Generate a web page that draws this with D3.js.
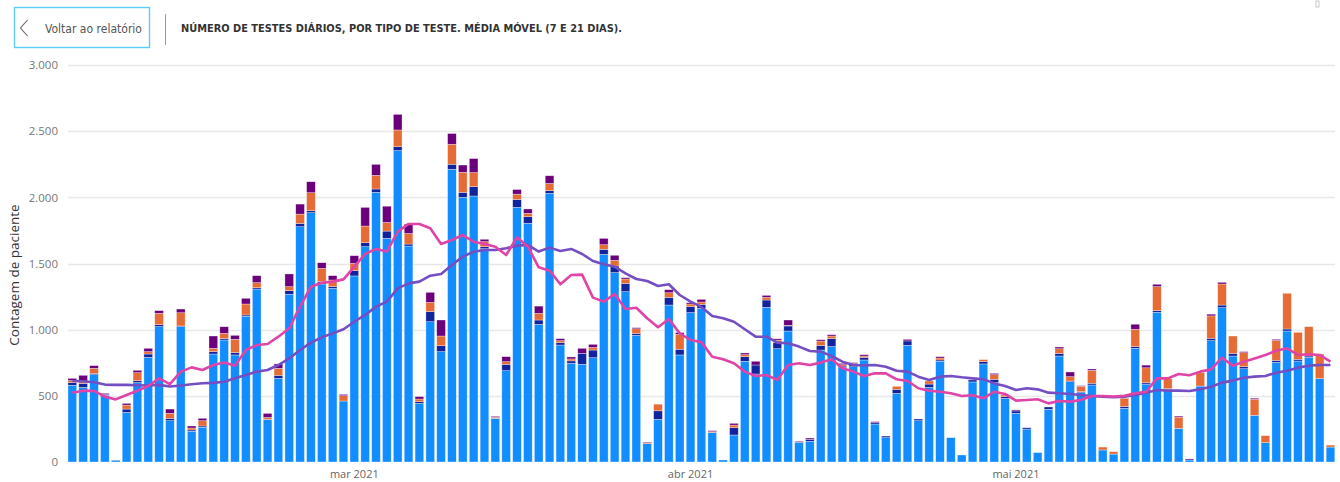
<!DOCTYPE html>
<html><head><meta charset="utf-8">
<script src="https://cdn.jsdelivr.net/npm/d3@7"></script>
<style>body{margin:0;background:#fff}svg{display:block}</style>
</head><body>
<svg id="c" width="1340" height="482"></svg>
<script>
// ---- DATA ----
const dates = d3.timeDay.range(new Date(2021, 1, 3), new Date(2021, 4, 31)); // 3 fev .. 30 mai
const blue = [580,564,660,504,12,375,600,791,1023,312,1023,232,262,816,922,809,1101,1307,322,632,
1267,1778,1884,1345,1312,461,1406,1627,2038,1690,2353,1632,443,1060,834,2212,2000,2010,1612,330,
690,1924,1804,1040,2030,884,746,738,788,1569,1431,1287,957,139,322,1186,809,1129,1161,224,
15,204,761,665,1169,856,990,149,156,846,872,713,720,771,287,184,519,882,312,564,
761,184,53,605,741,600,481,368,249,71,398,801,607,524,582,91,60,406,859,589,
1131,549,254,15,574,917,1166,801,705,353,146,753,990,763,791,630,113];
const navy = [20,30,10,8,3,25,15,25,15,18,5,10,10,18,10,18,10,10,0,23,
28,25,15,18,13,0,40,30,25,55,30,15,13,76,45,38,38,71,15,0,
48,60,50,33,20,18,18,83,58,38,50,63,15,0,65,58,43,45,30,0,
0,55,35,68,55,45,38,0,15,35,60,12,15,20,10,12,30,33,13,25,
10,0,0,15,18,25,13,18,10,0,18,20,5,8,13,0,0,13,13,10,
13,5,0,0,0,18,20,20,15,0,0,15,15,13,10,0,0];
const orange = [15,15,38,0,0,30,60,18,86,38,100,15,40,25,40,100,83,38,15,53,
30,70,136,100,50,40,55,126,103,65,126,80,20,70,73,151,151,106,38,8,
20,40,25,50,55,15,15,0,20,35,43,33,35,6,50,35,113,20,18,5,
0,20,15,0,20,20,5,0,0,33,20,10,8,10,0,0,23,0,0,23,
15,0,0,0,15,35,13,0,0,0,0,35,33,40,98,22,18,63,131,113,
181,76,85,0,100,169,159,131,106,121,53,151,270,204,222,186,15];
const purple = [17,46,20,7,0,13,18,25,20,32,28,15,18,93,50,30,43,53,30,33,
96,76,83,43,33,10,58,141,83,123,118,71,18,76,121,81,55,106,18,7,
38,35,33,55,58,15,15,38,23,48,38,10,8,6,0,23,13,10,20,8,
0,13,13,28,15,10,40,7,10,10,10,10,8,10,8,0,0,12,0,0,
10,0,0,0,0,10,0,8,0,0,0,13,35,5,10,0,0,0,38,20,
18,0,8,8,0,13,13,0,8,8,0,8,0,0,0,0,0];
const ma7 = [524,539,537,494,473,506,539,574,632,589,683,715,695,733,752,728,846,884,892,947,
1010,1174,1325,1355,1363,1380,1476,1572,1610,1590,1741,1799,1799,1766,1647,1678,1715,1665,1647,1627,
1564,1698,1627,1471,1446,1343,1413,1416,1242,1212,1270,1156,1166,1086,1018,1081,972,922,906,796,
776,746,683,650,657,620,733,746,733,751,776,708,683,650,670,670,625,612,557,539,
531,519,499,504,481,531,514,464,469,474,443,461,456,469,499,499,494,501,519,531,
632,632,665,655,683,700,788,728,758,783,809,841,859,809,814,809,758];
const ma21 = [612,610,603,585,583,583,580,578,583,570,578,588,595,598,607,632,657,683,695,733,
783,846,902,942,972,1003,1060,1111,1174,1212,1312,1350,1363,1408,1421,1489,1552,1589,1602,1602,
1615,1635,1640,1590,1620,1595,1610,1572,1519,1494,1476,1426,1383,1368,1330,1343,1262,1212,1172,1103,
1086,1060,1003,947,947,902,897,872,839,834,801,758,733,730,733,720,690,683,645,620,
645,650,640,632,625,594,574,544,557,549,524,519,514,506,499,494,489,494,506,524,
544,539,539,537,549,569,600,615,637,645,650,675,690,713,728,733,733];
const yTicks = [0, 500, 1000, 1500, 2000, 2500, 3000];
const monthTicks = [new Date(2021, 2, 1), new Date(2021, 3, 1), new Date(2021, 4, 1)];
const monthLabels = ["mar 2021", "abr 2021", "mai 2021"];
const keys = ["blue", "navy", "orange", "purple"];
const colors = {blue: "#118DFF", navy: "#12239E", orange: "#E66C37", purple: "#6B007B"};

// ---- CHART ----
const svg = d3.select("#c");
const fmt = d3.formatLocale({decimal: ",", thousands: ".", grouping: [3], currency: ["R$", ""]}).format(",");
const x = d3.scaleBand().domain(dates.map(d => +d)).range([66.9, 1335.9]).paddingInner(0.2).paddingOuter(0.1);
const y = d3.scaleLinear().domain([0, 3000]).range([462, 65]);
const bw = x.bandwidth();

// header
svg.append("rect").attr("x", 14.5).attr("y", 7.5).attr("width", 135).attr("height", 40)
  .attr("fill", "#fff").attr("stroke", "#5CCDF4").attr("stroke-width", 1.4);
svg.append("path").attr("d", "M27.5,20 L20.5,28 L27.5,36").attr("fill", "none").attr("stroke", "#666").attr("stroke-width", 1.1);
svg.append("text").attr("x", 45).attr("y", 32.5).attr("font-family", "'Liberation Sans Narrow','DejaVu Sans Condensed',sans-serif")
  .attr("font-size", 12.5).attr("fill", "#555").attr("textLength", 97).attr("lengthAdjust", "spacingAndGlyphs").text("Voltar ao relatório");
svg.append("line").attr("x1", 165.5).attr("x2", 165.5).attr("y1", 14).attr("y2", 45).attr("stroke", "#999");
svg.append("text").attr("x", 181).attr("y", 32).attr("font-family", "'DejaVu Sans Condensed',sans-serif").attr("font-weight", "bold")
  .attr("font-size", 10.5).attr("fill", "#333").attr("textLength", 441).attr("lengthAdjust", "spacingAndGlyphs")
  .text("NÚMERO DE TESTES DIÁRIOS, POR TIPO DE TESTE. MÉDIA MÓVEL (7 E 21 DIAS).");
svg.append("rect").attr("x", 1316).attr("y", 1).attr("width", 3).attr("height", 6).attr("fill", "none").attr("stroke", "#bbb").attr("stroke-width", 0.8);

// gridlines + y axis
const yAxis = d3.axisLeft(y).tickValues(yTicks).tickFormat(fmt).tickSize(0).tickPadding(10);
const gy = svg.append("g").attr("transform", "translate(68,0)").call(yAxis);
gy.select(".domain").remove();
gy.selectAll("text").attr("font-family", "'Open Sans',sans-serif").attr("font-size", 11.5).attr("fill", "#777");
svg.append("g").selectAll("line").data(yTicks.filter(t => t > 0)).join("line")
  .attr("x1", 68).attr("x2", 1335).attr("y1", d => Math.round(y(d)) + 0.5).attr("y2", d => Math.round(y(d)) + 0.5)
  .attr("stroke", "#E8E8E8").attr("stroke-width", 1.5);

svg.append("text").attr("transform", "translate(19,275) rotate(-90)").attr("text-anchor", "middle")
  .attr("font-family", "'Open Sans',sans-serif").attr("font-size", 13.5).attr("fill", "#333").text("Contagem de paciente");

// x axis labels
svg.append("g").selectAll("text").data(monthTicks).join("text")
  .attr("x", d => x(+d) + bw / 2).attr("y", 478).attr("text-anchor", "middle")
  .attr("font-family", "'Open Sans',sans-serif").attr("font-size", 11).attr("fill", "#666")
  .text((d, i) => monthLabels[i]);

// stacked bars
const rows = dates.map((d, i) => ({date: +d, blue: blue[i], navy: navy[i], orange: orange[i], purple: purple[i]}));
const series = d3.stack().keys(keys)(rows);
svg.append("g").selectAll("g").data(series).join("g").attr("fill", s => colors[s.key])
  .selectAll("rect").data(s => s.filter(p => p[1] - p[0] > 0)).join("rect")
  .attr("x", p => x(p.data.date)).attr("width", bw)
  .attr("y", p => y(p[1])).attr("height", p => y(p[0]) - y(p[1]))
  .attr("stroke", "rgba(255,255,255,0.55)").attr("stroke-width", 0.6);

// moving averages
const line = d3.line().x((v, i) => x(+dates[i]) + bw / 2).y(v => y(v));
svg.append("path").datum(ma21).attr("d", line).attr("fill", "none").attr("stroke", "#744EC2").attr("stroke-width", 2.6).attr("stroke-linejoin", "round");
svg.append("path").datum(ma7).attr("d", line).attr("fill", "none").attr("stroke", "#E044A7").attr("stroke-width", 2.6).attr("stroke-linejoin", "round");
</script>
</body></html>
